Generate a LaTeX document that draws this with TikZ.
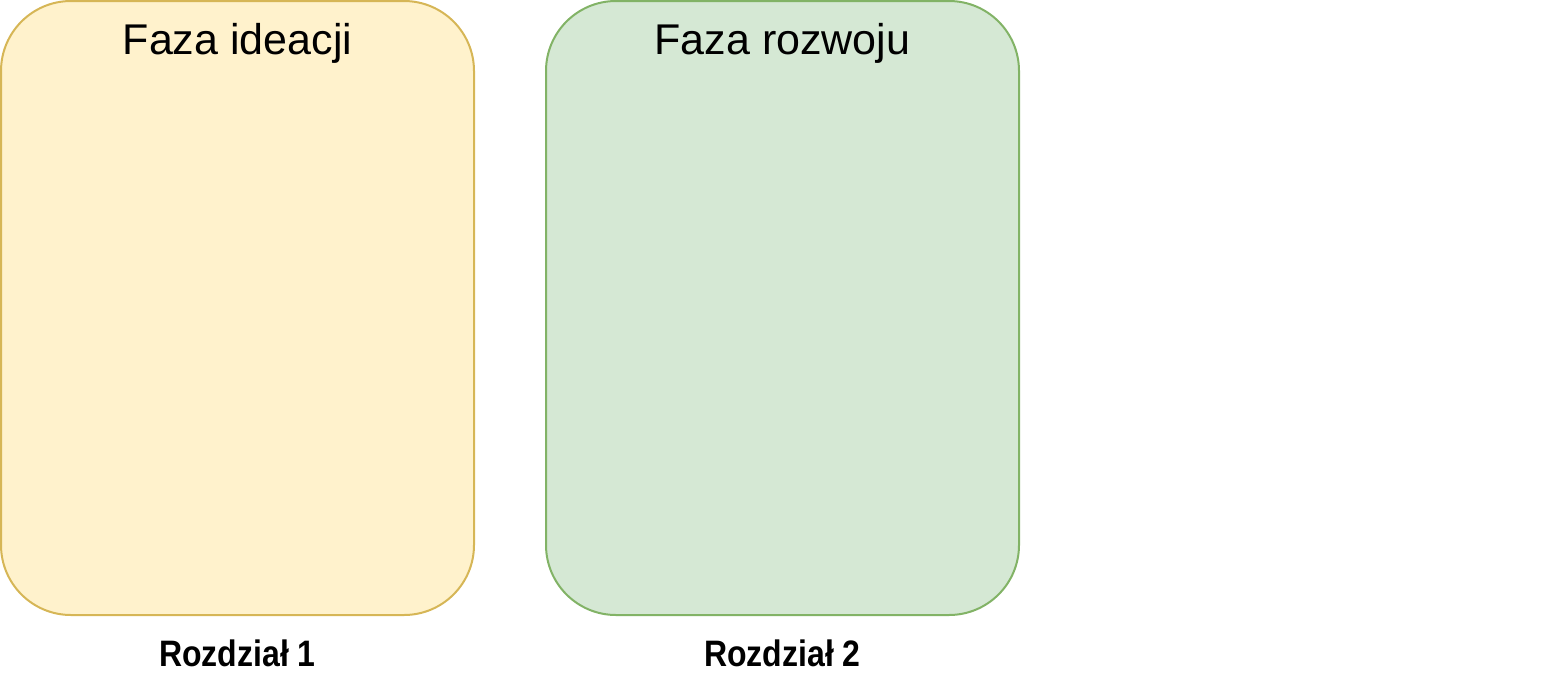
\documentclass[tikz,border=0pt]{standalone}
\usepackage{fontspec}
\setmainfont{Liberation Sans}
\usepackage{tikz}
\usetikzlibrary{positioning}

\definecolor{ideafill}{HTML}{FFF2CC}
\definecolor{ideadraw}{HTML}{D6B656}
\definecolor{devfill}{HTML}{D5E8D4}
\definecolor{devdraw}{HTML}{82B366}

\begin{document}
\begin{tikzpicture}[x=1pt,y=-1pt,
  phase/.style={draw,line width=2pt,rounded corners=70pt,
    minimum width=473pt,minimum height=614pt,inner sep=0pt},
  phasetitle/.style={font=\fontsize{43}{50}\selectfont,inner sep=0pt},
  chapter/.style={font=\fontsize{32}{38}\selectfont\bfseries,inner sep=0pt,
    yscale=1.15,transform shape}]
  \useasboundingbox (0,0) rectangle (1563,688);
  \node[phase,fill=ideafill,draw=ideadraw] (ideacja) at (237.5,308) {};
  \node[phase,fill=devfill,draw=devdraw,right=70pt of ideacja] (rozwoj) {};
  \node[phasetitle] (t-ideacja) at ([yshift=-43pt]ideacja.north) {Faza ideacji};
  \node[phasetitle] (t-rozwoj) at ([yshift=-43pt]rozwoj.north) {Faza rozwoju};
  \node[chapter] (r-1) at ([yshift=-37pt]ideacja.south) {Rozdział 1};
  \node[chapter] (r-2) at ([yshift=-37pt]rozwoj.south) {Rozdział 2};
\end{tikzpicture}
\end{document}
